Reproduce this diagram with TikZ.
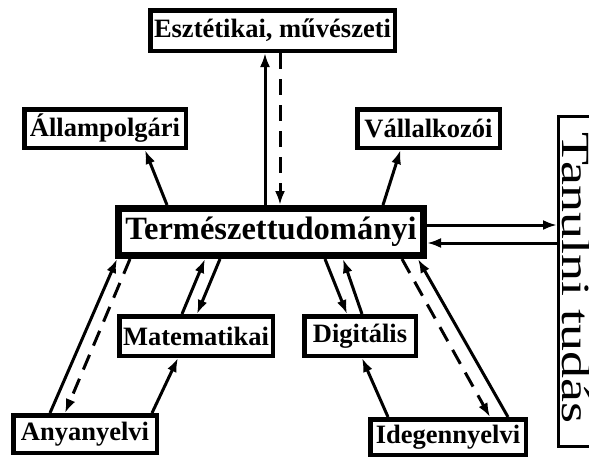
\documentclass[tikz,border=0pt]{standalone}
\usepackage{fontspec}
\setmainfont{Liberation Serif}
\usetikzlibrary{arrows.meta,calc}
\begin{document}
\begin{tikzpicture}[x=1pt,y=-1pt,
  box/.style={draw, line width=4.5pt, inner sep=0pt, font=\bfseries\fontsize{26.5}{30}\selectfont},
  conn/.style={line width=3pt, -{Latex[length=14pt,width=10pt]}},
  dconn/.style={conn, dash pattern=on 16pt off 10pt}]
\useasboundingbox (0,0) rectangle (589,458);
\clip (0,0) rectangle (589,458);
\fill[white] (0,0) rectangle (589,458);

\node[box, minimum width=244.5pt, minimum height=40.5pt] (eszt) at (272.5,30.5) {Esztétikai, művészeti};
\node[box, minimum width=161.5pt, minimum height=38.5pt] (all) at (105,128.5) {Állampolgári};
\node[box, minimum width=142.5pt, minimum height=38.5pt] (vall) at (428.5,128.5) {Vállalkozói};
\node[box, line width=7pt, minimum width=305pt, minimum height=47pt, font=\bfseries\fontsize{32.5}{36}\selectfont] (term) at (271,232) {Természettudományi};
\node[box, minimum width=153.5pt, minimum height=39.5pt] (mat) at (196,336) {Matematikai};
\node[box, minimum width=111.5pt, minimum height=39.5pt] (dig) at (360,336) {Digitális};
\node[box, minimum width=143.5pt, minimum height=37.5pt] (any) at (85,434) {Anyanyelvi};
\node[box, minimum width=155.5pt, minimum height=35.5pt] (ideg) at (448,437) {Idegennyelvi};
\node[draw, line width=3pt, minimum width=70pt, minimum height=330pt, inner sep=0pt] (tan) at (593.5,281.5) {};
\node[rotate=-90, anchor=base west, inner sep=0pt] (tantext) at (562,132) {\scalebox{1.35}[1]{\fontsize{40}{40}\selectfont Tanulni tudás}};

% top
\draw[conn] ([xshift=-6pt]term.north) -- ([xshift=-7.5pt]eszt.south);
\draw[dconn] ([xshift=7.5pt]eszt.south) -- ([xshift=9pt]term.north);
\draw[conn] ([xshift=-104pt]term.north) -- ([xshift=40pt]all.south);
\draw[conn] ([xshift=112pt]term.north) -- ([xshift=-28pt]vall.south);

% right
\coordinate (tr1) at ([yshift=7pt]term.east);
\coordinate (tr2) at ([yshift=-11pt]term.east);
\draw[conn] (tr1) -- (tr1 -| tan.west);
\draw[conn] (tr2 -| tan.west) -- (tr2);

% bottom left
\draw[conn] ([xshift=-35pt]any.north) -- ([xshift=-154pt]term.south);
\draw[dconn] ([xshift=-141pt]term.south) -- ([xshift=-20pt]any.north);
\draw[conn] ([xshift=67pt]any.north) -- ([xshift=-18pt]mat.south);
\draw[conn] ([xshift=-14pt]mat.north) -- ([xshift=-66pt]term.south);
\draw[conn] ([xshift=-51pt]term.south) -- ([xshift=1pt]mat.north);

% bottom right
\draw[conn] ([xshift=54pt]term.south) -- ([xshift=-13pt]dig.north);
\draw[conn] ([xshift=2pt]dig.north) -- ([xshift=72pt]term.south);
\draw[conn] ([xshift=-60pt]ideg.north) -- ([xshift=2pt]dig.south);
\draw[dconn] ([xshift=131pt]term.south) -- ([xshift=42pt]ideg.north);
\draw[conn] ([xshift=60pt]ideg.north) -- ([xshift=147pt]term.south);
\end{tikzpicture}
\end{document}
